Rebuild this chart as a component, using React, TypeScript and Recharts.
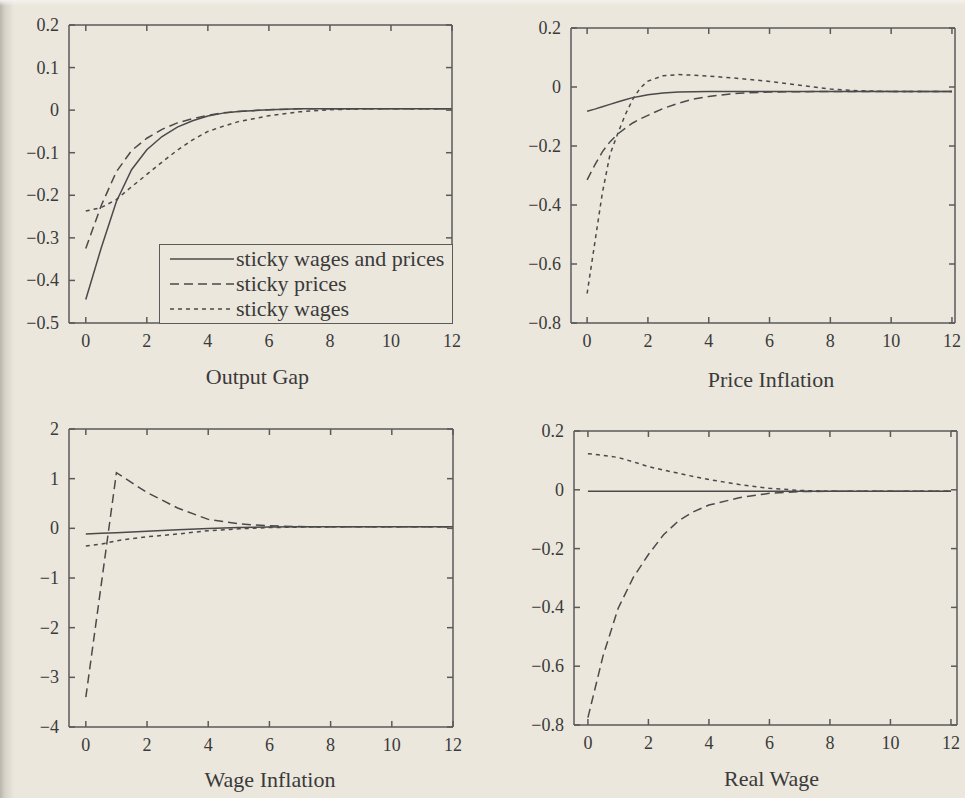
import React from 'react';
import { LineChart, Line, XAxis, YAxis, Legend, Label } from 'recharts';

// ---------- shared ----------
const seriesNames = ['sticky wages and prices', 'sticky prices', 'sticky wages'];
const seriesKeys = ['both', 'prices', 'wages'];
const seriesDash = ['', '9 5', '4 4'];
const xTicks = [0, 2, 4, 6, 8, 10, 12];

// ---------- Output Gap ----------
const gapX = [0, 0.5, 1, 1.5, 2, 2.5, 3, 3.5, 4, 4.5, 5, 6, 7, 8, 9, 10, 11, 12];
const gapBoth = [-0.445, -0.325, -0.215, -0.14, -0.093, -0.062, -0.04, -0.025, -0.014, -0.007, -0.003, 0.001, 0.003, 0.003, 0.003, 0.003, 0.003, 0.003];
const gapPrices = [-0.325, -0.225, -0.145, -0.095, -0.066, -0.045, -0.03, -0.02, -0.012, -0.006, -0.003, 0.001, 0.003, 0.003, 0.003, 0.003, 0.003, 0.003];
const gapWages = [-0.237, -0.229, -0.21, -0.18, -0.151, -0.122, -0.094, -0.07, -0.05, -0.038, -0.027, -0.013, -0.004, 0.001, 0.003, 0.003, 0.003, 0.003];
const gapTicks = [0.2, 0.1, 0, -0.1, -0.2, -0.3, -0.4, -0.5];

// ---------- Price Inflation ----------
const priceX = [0, 0.25, 0.5, 0.75, 1, 1.25, 1.5, 1.75, 2, 2.5, 3, 3.5, 4, 5, 6, 7, 8, 9, 10, 11, 12];
const priceBoth = [-0.082, -0.075, -0.067, -0.059, -0.051, -0.043, -0.036, -0.031, -0.026, -0.02, -0.017, -0.016, -0.015, -0.015, -0.015, -0.015, -0.015, -0.015, -0.015, -0.015, -0.015];
const pricePrices = [-0.315, -0.265, -0.22, -0.186, -0.16, -0.14, -0.122, -0.108, -0.096, -0.073, -0.055, -0.041, -0.032, -0.021, -0.017, -0.016, -0.015, -0.015, -0.015, -0.015, -0.015];
const priceWages = [-0.7, -0.53, -0.36, -0.23, -0.16, -0.095, -0.042, -0.003, 0.02, 0.038, 0.042, 0.04, 0.037, 0.029, 0.019, 0.006, -0.007, -0.013, -0.015, -0.015, -0.015];
const priceTicks = [0.2, 0, -0.2, -0.4, -0.6, -0.8];

// ---------- Wage Inflation ----------
const wageX = [0, 0.5, 1, 2, 3, 4, 5, 6, 7, 8, 9, 10, 11, 12];
const wageBoth = [-0.115, -0.1, -0.09, -0.06, -0.03, -0.005, 0.015, 0.025, 0.03, 0.03, 0.03, 0.03, 0.03, 0.03];
const wagePrices = [-3.4, -1.15, 1.12, 0.72, 0.41, 0.18, 0.09, 0.05, 0.035, 0.03, 0.03, 0.03, 0.03, 0.03];
const wageWages = [-0.355, -0.32, -0.25, -0.17, -0.115, -0.047, -0.01, 0.015, 0.025, 0.03, 0.03, 0.03, 0.03, 0.03];
const wageTicks = [2, 1, 0, -1, -2, -3, -4];

// ---------- Real Wage ----------
const realX = [0, 0.5, 1, 1.5, 2, 2.5, 3, 3.5, 4, 5, 6, 7, 8, 9, 10, 11, 12];
const realBoth = [-0.005, -0.005, -0.005, -0.005, -0.005, -0.005, -0.005, -0.005, -0.005, -0.005, -0.005, -0.005, -0.005, -0.005, -0.005, -0.005, -0.005];
const realPrices = [-0.775, -0.565, -0.403, -0.298, -0.22, -0.153, -0.105, -0.074, -0.052, -0.027, -0.012, -0.006, -0.005, -0.005, -0.005, -0.005, -0.005];
const realWages = [0.123, 0.117, 0.11, 0.095, 0.079, 0.067, 0.056, 0.045, 0.035, 0.018, 0.005, -0.002, -0.005, -0.005, -0.005, -0.005, -0.005];
const realTicks = [0.2, 0, -0.2, -0.4, -0.6, -0.8];

const build = (xs: number[], a: number[], b: number[], c: number[]) =>
  xs.map((x, i) => ({ x, both: a[i], prices: b[i], wages: c[i] }));

const BG = '#ebe7dd';
const INK = '#3a3a3a';
const LINE = '#4a4a4a';
const AXIS = '#5a5a5a';
const FONT = '"Liberation Serif", "Times New Roman", serif';
const Y_W = 60;
const X_H = 30;
const TICK_LEN = 6;

const fmt = (v: number) => (v < 0 ? '\u2212' : '') + String(Math.abs(v));

const BottomTick = (props: any) => {
  const { x, y, payload } = props;
  return (
    <g>
      <line x1={x} y1={y} x2={x} y2={y - TICK_LEN} stroke={AXIS} strokeWidth={1.5} />
      <text x={x} y={y + 24} textAnchor="middle" fill={INK} fontSize={18} fontFamily={FONT}>
        {fmt(payload.value)}
      </text>
    </g>
  );
};
const TopTick = (props: any) => {
  const { x, y } = props;
  return <line x1={x} y1={y} x2={x} y2={y + TICK_LEN} stroke={AXIS} strokeWidth={1.5} />;
};
const LeftTick = (props: any) => {
  const { x, y, payload } = props;
  return (
    <g>
      <line x1={x} y1={y} x2={x + TICK_LEN} y2={y} stroke={AXIS} strokeWidth={1.5} />
      <text x={x - 10} y={y + 6} textAnchor="end" fill={INK} fontSize={18} fontFamily={FONT}>
        {fmt(payload.value)}
      </text>
    </g>
  );
};
const RightTick = (props: any) => {
  const { x, y } = props;
  return <line x1={x} y1={y} x2={x - TICK_LEN} y2={y} stroke={AXIS} strokeWidth={1.5} />;
};

function LegendBox() {
  return (
    <div
      style={{
        boxSizing: 'border-box',
        width: 294,
        height: 80,
        border: `1.5px solid ${AXIS}`,
        background: BG,
        paddingTop: 1,
      }}
    >
      {seriesNames.map((n, i) => (
        <div key={n} style={{ height: 25, display: 'flex', alignItems: 'center' }}>
          <svg width={76} height={10} style={{ flex: 'none' }}>
            <line x1={10} y1={5} x2={74} y2={5} stroke={LINE} strokeWidth={1.5} strokeDasharray={seriesDash[i] || undefined} />
          </svg>
          <span style={{ fontFamily: FONT, fontSize: 22, lineHeight: '25px', color: INK, whiteSpace: 'nowrap' }}>{n}</span>
        </div>
      ))}
    </div>
  );
}

type PanelProps = {
  ox: number;
  oy: number;
  w: number;
  h: number;
  box: { l: number; t: number; r: number; b: number };
  xDomain: [number, number];
  yDomain: [number, number];
  yTicks: number[];
  data: any[];
  title: string;
  titleOffset: number;
  titleDx: number;
  legend?: boolean;
};

function Panel(p: PanelProps) {
  const margin = {
    left: p.box.l - p.ox - Y_W,
    top: p.box.t - p.oy - 1,
    right: p.ox + p.w - p.box.r - 1,
    bottom: p.oy + p.h - p.box.b - X_H,
  };
  return (
    <div style={{ position: 'absolute', left: p.ox, top: p.oy }}>
      <LineChart width={p.w} height={p.h} data={p.data} margin={margin}>
        <XAxis
          xAxisId="b"
          dataKey="x"
          type="number"
          domain={p.xDomain}
          ticks={xTicks}
          interval={0}
          orientation="bottom"
          height={X_H}
          tickSize={0}
          tickMargin={0}
          tickLine={false}
          stroke={AXIS}
          strokeWidth={1.5}
          tick={BottomTick}
          allowDataOverflow
        >
          <Label
            value={p.title}
            position="bottom"
            offset={p.titleOffset}
            dx={p.titleDx}
            fill={INK}
            fontSize={22}
            fontFamily={FONT}
          />
        </XAxis>
        <XAxis
          xAxisId="t"
          dataKey="x"
          type="number"
          domain={p.xDomain}
          ticks={xTicks}
          interval={0}
          orientation="top"
          height={1}
          tickSize={0}
          tickMargin={0}
          tickLine={false}
          tick={TopTick}
          stroke={AXIS}
          strokeWidth={1.5}
          allowDataOverflow
        />
        <YAxis
          yAxisId="l"
          type="number"
          domain={p.yDomain}
          ticks={p.yTicks}
          interval={0}
          width={Y_W}
          tickSize={0}
          tickMargin={0}
          tickLine={false}
          stroke={AXIS}
          strokeWidth={1.5}
          tick={LeftTick}
          allowDataOverflow
        />
        <YAxis
          yAxisId="r"
          orientation="right"
          type="number"
          domain={p.yDomain}
          ticks={p.yTicks}
          interval={0}
          width={1}
          tickSize={0}
          tickMargin={0}
          tickLine={false}
          tick={RightTick}
          stroke={AXIS}
          strokeWidth={1.5}
          allowDataOverflow
        />
        {seriesKeys.map((k, i) => (
          <Line
            key={k}
            xAxisId="b"
            yAxisId="l"
            type="linear"
            dataKey={k}
            name={seriesNames[i]}
            stroke={LINE}
            strokeWidth={1.5}
            strokeDasharray={seriesDash[i] || undefined}
            dot={false}
            activeDot={false}
            isAnimationActive={false}
          />
        ))}
        {p.legend ? (
          <Legend
            layout="vertical"
            align="center"
            verticalAlign="middle"
            content={() => <LegendBox />}
            wrapperStyle={{ left: 159 - p.ox, top: 244 - p.oy, width: 294, height: 80 }}
          />
        ) : null}
      </LineChart>
    </div>
  );
}

export default function App() {
  return (
    <div
      style={{
        position: 'absolute',
        left: 0,
        top: 0,
        width: 965,
        height: 798,
        overflow: 'hidden',
        background: `linear-gradient(to right, #b9b5ab 0px, #d6d2c8 5px, ${BG} 14px)`,
        fontFamily: FONT,
      }}
    >
      <div style={{ position: 'absolute', left: 0, top: 0, width: 965, height: 6, background: 'linear-gradient(to bottom, #f4f2ee, rgba(235,231,221,0))' }} />
      <Panel
        ox={0}
        oy={0}
        w={480}
        h={398}
        box={{ l: 69, t: 25, r: 452, b: 323 }}
        xDomain={[-0.55, 12]}
        yDomain={[-0.5, 0.2]}
        yTicks={gapTicks}
        data={build(gapX, gapBoth, gapPrices, gapWages)}
        title="Output Gap"
        titleOffset={15}
        titleDx={-3}
        legend
      />
      <Panel
        ox={480}
        oy={0}
        w={485}
        h={398}
        box={{ l: 571, t: 28, r: 955, b: 323 }}
        xDomain={[-0.53, 12.1]}
        yDomain={[-0.8, 0.2]}
        yTicks={priceTicks}
        data={build(priceX, priceBoth, pricePrices, priceWages)}
        title="Price Inflation"
        titleOffset={18}
        titleDx={8}
      />
      <Panel
        ox={0}
        oy={398}
        w={480}
        h={400}
        box={{ l: 69, t: 429, r: 453, b: 727 }}
        xDomain={[-0.55, 12]}
        yDomain={[-4, 2]}
        yTicks={wageTicks}
        data={build(wageX, wageBoth, wagePrices, wageWages)}
        title="Wage Inflation"
        titleOffset={14}
        titleDx={9}
      />
      <Panel
        ox={480}
        oy={398}
        w={485}
        h={400}
        box={{ l: 574, t: 431, r: 957, b: 725 }}
        xDomain={[-0.46, 12.2]}
        yDomain={[-0.8, 0.2]}
        yTicks={realTicks}
        data={build(realX, realBoth, realPrices, realWages)}
        title="Real Wage"
        titleOffset={15}
        titleDx={6}
      />
    </div>
  );
}
